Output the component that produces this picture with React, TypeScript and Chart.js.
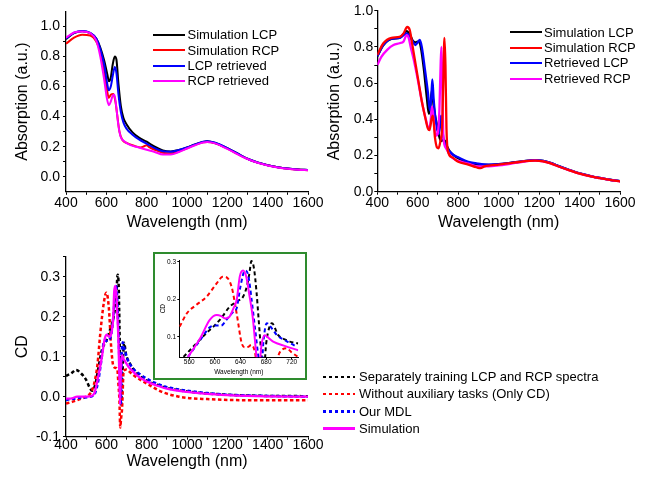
import React, { useEffect, useRef } from "react";
import { Chart, registerables } from "chart.js";
Chart.register(...registerables);

const FONT = "Arial, 'Liberation Sans', Helvetica, sans-serif";
type Pt = [number, number];

// ---------- Panel 1 (top-left) ----------
const p1SimLCP: Pt[] = [[400,0.915],[440,0.955],[480,0.968],[520,0.955],[550,0.92],[570,0.86],[590,0.77],[605,0.68],[613,0.635],[622,0.66],[632,0.75],[642,0.8],[650,0.78],[660,0.62],[672,0.47],[685,0.39],[700,0.35],[730,0.295],[760,0.262],[800,0.233],[840,0.2],[880,0.175],[920,0.168],[960,0.178],[1000,0.195],[1040,0.215],[1080,0.232],[1100,0.236],[1140,0.225],[1200,0.19],[1250,0.155],[1300,0.12],[1350,0.095],[1400,0.077],[1450,0.064],[1500,0.055],[1550,0.049],[1600,0.045]];
const p1SimRCP: Pt[] = [[400,0.885],[440,0.925],[480,0.945],[520,0.94],[550,0.9],[570,0.83],[590,0.7],[603,0.58],[612,0.525],[622,0.545],[635,0.55],[645,0.5],[655,0.4],[665,0.3],[680,0.245],[700,0.225],[740,0.205],[770,0.195],[790,0.205],[800,0.21],[815,0.195],[840,0.18],[880,0.16],[920,0.155],[960,0.168],[1000,0.19],[1040,0.212],[1080,0.23],[1100,0.232],[1140,0.222],[1200,0.188],[1250,0.152],[1300,0.119],[1350,0.094],[1400,0.076],[1450,0.063],[1500,0.054],[1550,0.048],[1600,0.044]];
const p1LCPRet: Pt[] = [[400,0.92],[440,0.958],[480,0.97],[520,0.958],[550,0.92],[570,0.85],[590,0.74],[603,0.63],[612,0.575],[622,0.6],[633,0.68],[642,0.73],[650,0.69],[660,0.55],[672,0.43],[685,0.36],[700,0.32],[730,0.28],[760,0.25],[800,0.22],[840,0.19],[880,0.17],[920,0.167],[960,0.178],[1000,0.195],[1040,0.215],[1080,0.233],[1100,0.236],[1140,0.226],[1200,0.19],[1250,0.155],[1300,0.12],[1350,0.095],[1400,0.077],[1450,0.064],[1500,0.055],[1550,0.049],[1600,0.045]];
const p1RCPRet: Pt[] = [[400,0.925],[440,0.96],[480,0.967],[520,0.955],[550,0.905],[570,0.8],[590,0.64],[603,0.52],[613,0.475],[622,0.5],[632,0.54],[640,0.545],[648,0.48],[658,0.36],[670,0.27],[690,0.235],[720,0.21],[760,0.195],[800,0.18],[840,0.165],[880,0.148],[920,0.148],[960,0.165],[1000,0.188],[1040,0.21],[1080,0.228],[1100,0.232],[1140,0.222],[1200,0.185],[1250,0.15],[1300,0.118],[1350,0.093],[1400,0.075],[1450,0.062],[1500,0.053],[1550,0.047],[1600,0.043]];
const p1Labels = ["Simulation LCP", "Simulation RCP", "LCP retrieved", "RCP retrieved"];

// ---------- Panel 2 (top-right) ----------
const p2SimLCP: Pt[] = [[400,0.748],[430,0.81],[470,0.845],[510,0.85],[530,0.87],[545,0.887],[560,0.87],[575,0.835],[590,0.825],[605,0.83],[615,0.8],[630,0.68],[645,0.52],[655,0.43],[662,0.47],[670,0.56],[676,0.5],[684,0.43],[695,0.37],[705,0.31],[715,0.28],[725,0.285],[735,0.28],[745,0.25],[760,0.22],[780,0.2],[800,0.185],[850,0.16],[900,0.15],[950,0.148],[1000,0.152],[1050,0.158],[1100,0.165],[1150,0.172],[1180,0.175],[1220,0.17],[1260,0.158],[1300,0.14],[1350,0.12],[1400,0.102],[1450,0.088],[1500,0.076],[1550,0.066],[1600,0.058]];
const p2SimRCP: Pt[] = [[400,0.755],[430,0.82],[470,0.85],[510,0.855],[530,0.875],[548,0.91],[560,0.895],[575,0.8],[590,0.7],[605,0.6],[620,0.5],[635,0.42],[650,0.35],[658,0.34],[668,0.4],[675,0.42],[685,0.3],[695,0.245],[703,0.24],[712,0.28],[720,0.35],[726,0.6],[732,0.85],[737,0.7],[742,0.35],[750,0.22],[770,0.19],[800,0.165],[850,0.15],[890,0.135],[910,0.13],[930,0.14],[960,0.145],[1000,0.15],[1050,0.157],[1100,0.164],[1150,0.17],[1180,0.172],[1220,0.168],[1260,0.155],[1300,0.138],[1350,0.118],[1400,0.1],[1450,0.086],[1500,0.075],[1550,0.065],[1600,0.057]];
const p2RetLCP: Pt[] = [[400,0.748],[430,0.81],[470,0.845],[510,0.85],[530,0.865],[545,0.875],[560,0.86],[575,0.83],[588,0.81],[600,0.825],[610,0.838],[620,0.8],[635,0.68],[650,0.55],[660,0.45],[667,0.52],[672,0.62],[678,0.52],[686,0.42],[695,0.35],[703,0.32],[710,0.36],[715,0.42],[720,0.36],[728,0.29],[740,0.25],[760,0.22],[780,0.2],[800,0.19],[850,0.165],[900,0.155],[950,0.15],[1000,0.152],[1050,0.158],[1100,0.165],[1150,0.172],[1180,0.175],[1220,0.17],[1260,0.158],[1300,0.14],[1350,0.12],[1400,0.102],[1450,0.088],[1500,0.076],[1550,0.066],[1600,0.058]];
const p2RetRCP: Pt[] = [[400,0.7],[420,0.745],[450,0.785],[480,0.81],[510,0.82],[530,0.83],[545,0.865],[555,0.85],[565,0.8],[580,0.73],[600,0.62],[620,0.5],[640,0.4],[655,0.345],[663,0.38],[670,0.47],[675,0.44],[683,0.35],[692,0.31],[700,0.33],[707,0.45],[713,0.7],[717,0.8],[721,0.6],[727,0.3],[740,0.24],[760,0.2],[780,0.18],[800,0.17],[850,0.155],[900,0.14],[950,0.14],[1000,0.145],[1050,0.153],[1100,0.162],[1150,0.17],[1180,0.172],[1220,0.168],[1260,0.155],[1300,0.138],[1350,0.118],[1400,0.1],[1450,0.086],[1500,0.075],[1550,0.065],[1600,0.057]];
const p2Labels = ["Simulation LCP", "Simulation RCP", "Retrieved LCP", "Retrieved RCP"];

// ---------- Panel 3 (CD) ----------
const cdSeparate: Pt[] = [[400,0.052],[425,0.058],[450,0.067],[475,0.058],[500,0.042],[515,0.025],[530,0.015],[545,0.03],[560,0.07],[578,0.117],[600,0.14],[620,0.17],[640,0.21],[650,0.26],[656,0.305],[661,0.28],[666,0.15],[670,0.02],[674,-0.02],[680,0.06],[688,0.135],[698,0.105],[715,0.085],[740,0.065],[770,0.05],[800,0.04],[850,0.03],[900,0.022],[1000,0.013],[1100,0.008],[1200,0.005],[1300,0.003],[1400,0.002],[1500,0.002],[1600,0.001]];
const cdNoAux: Pt[] = [[400,-0.017],[430,-0.013],[460,-0.008],[490,-0.002],[515,0.005],[530,0.017],[545,0.045],[556,0.08],[570,0.158],[587,0.233],[600,0.26],[612,0.225],[625,0.117],[636,0.075],[648,0.072],[654,0.07],[660,0.03],[665,-0.01],[669,-0.077],[673,-0.055],[678,-0.03],[686,0.065],[700,0.068],[720,0.06],[745,0.05],[810,0.03],[876,0.012],[960,0.0],[1000,-0.003],[1100,-0.006],[1200,-0.008],[1400,-0.009],[1600,-0.009]];
const cdMDL: Pt[] = [[400,-0.008],[440,-0.005],[480,-0.002],[520,0.0],[545,0.01],[560,0.04],[575,0.09],[590,0.14],[605,0.14],[618,0.145],[630,0.175],[640,0.235],[647,0.277],[652,0.265],[658,0.19],[663,0.118],[668,0.03],[671,-0.02],[676,0.09],[681,0.136],[690,0.12],[700,0.1],[730,0.072],[770,0.055],[800,0.045],[850,0.033],[900,0.024],[1000,0.015],[1100,0.009],[1200,0.005],[1300,0.003],[1400,0.002],[1600,0.0]];
const cdSim: Pt[] = [[400,-0.005],[430,-0.004],[455,0.0],[480,0.0],[520,0.001],[540,0.008],[558,0.046],[577,0.096],[592,0.145],[603,0.155],[616,0.149],[623,0.154],[634,0.198],[639,0.262],[644,0.277],[649,0.26],[654,0.21],[659,0.154],[665,0.046],[668,-0.02],[673,0.08],[678,0.104],[685,0.095],[691,0.09],[710,0.075],[730,0.064],[760,0.05],[800,0.038],[850,0.028],[900,0.02],[1000,0.012],[1100,0.007],[1200,0.004],[1300,0.002],[1400,0.001],[1600,0.0]];
const cdLabels = ["Separately training LCP and RCP spectra", "Without auxiliary tasks (Only CD)", "Our MDL", "Simulation"];

// ---------- Inset (zoom of CD) ----------
const inSeparate: Pt[] = [[551,0.046],[571,0.082],[590,0.115],[600,0.131],[610,0.15],[623,0.18],[634,0.194],[644,0.207],[650,0.235],[654,0.27],[657,0.302],[661,0.283],[665,0.22],[668,0.154],[673,0.046],[676,0.0],[680,0.08],[685,0.125],[689,0.136],[699,0.104],[710,0.092],[717,0.087],[730,0.082]];
const inNoAux: Pt[] = [[545,0.127],[556,0.162],[571,0.185],[587,0.207],[603,0.243],[612,0.26],[616,0.26],[626,0.234],[634,0.162],[642,0.082],[647,0.072],[652,0.073],[657,0.078],[663,0.055],[667,0.0],[690,0.0],[697,0.04],[702,0.06],[712,0.069],[720,0.058],[730,0.046]];
const inMDL: Pt[] = [[558,0.046],[577,0.091],[592,0.125],[600,0.13],[610,0.13],[618,0.145],[628,0.165],[634,0.176],[640,0.235],[647,0.277],[652,0.265],[658,0.19],[663,0.118],[668,0.046],[672,0.0],[676,0.09],[681,0.136],[690,0.12],[697,0.104],[710,0.09],[728,0.073]];
const inSim: Pt[] = [[558,0.046],[577,0.096],[592,0.145],[603,0.158],[610,0.155],[616,0.149],[623,0.154],[630,0.18],[634,0.198],[639,0.262],[644,0.277],[649,0.26],[654,0.21],[659,0.154],[665,0.046],[668,0.0],[673,0.08],[678,0.104],[685,0.095],[691,0.087],[710,0.075],[730,0.064]];

// ---------- Ticks ----------
const wlTicks = [400,500,600,700,800,900,1000,1100,1200,1300,1400,1500,1600];
const absTicks = [0,0.1,0.2,0.3,0.4,0.5,0.6,0.7,0.8,0.9,1.0];
const cdTicks = [-0.1,-0.05,0,0.05,0.1,0.15,0.2,0.25,0.3,0.35];
const inXTicks = [560,600,640,680,720];
const inYTicks = [0.1,0.2,0.3];

const BLACK = "#000000", RED = "#ff0000", BLUE = "#0000ff", MAG = "#ff00ff";

const xy = (a: Pt[]) => a.map(([x, y]) => ({ x, y }));
const ds = (label: string, a: Pt[], color: string, width: number, dash: number[] = []) => ({
  label, data: xy(a), borderColor: color, backgroundColor: color, borderWidth: width,
  borderDash: dash, pointRadius: 0, fill: false, cubicInterpolationMode: "monotone" as const,
  borderJoinStyle: "round" as const,
});

const isMult = (v: number, step: number) => Math.abs(Math.round(v / step) * step - v) < 1e-6;

function makeConfig(o: any): any {
  return {
    type: "line",
    data: { datasets: o.datasets },
    options: {
      responsive: false, animation: false, devicePixelRatio: 1,
      layout: { padding: o.pad },
      plugins: { legend: { display: false }, tooltip: { enabled: false } },
      scales: {
        x: {
          type: "linear", min: o.xMin, max: o.xMax,
          afterBuildTicks: (s: any) => { s.ticks = o.xTicks.map((v: number) => ({ value: v })); },
          afterFit: (s: any) => { s.height = o.xHeight; },
          ticks: { callback: o.xLabel, font: { family: FONT, size: o.tickSize }, color: "#000", padding: o.xTickPad, maxRotation: 0, autoSkip: false },
          grid: { display: true, drawOnChartArea: false, drawTicks: true, tickLength: o.tickLen, color: "#000", tickColor: "#000" },
          border: { display: true, color: "#000", width: o.axisWidth },
          title: { display: true, text: "Wavelength (nm)", font: { family: FONT, size: o.titleSize }, color: "#000", padding: { top: 0, bottom: o.xTitlePad } },
        },
        y: {
          type: "linear", min: o.yMin, max: o.yMax,
          afterBuildTicks: (s: any) => { s.ticks = o.yTicks.map((v: number) => ({ value: v })); },
          afterFit: (s: any) => { s.width = o.yWidth; },
          ticks: { callback: o.yLabel, font: { family: FONT, size: o.tickSize }, color: "#000", padding: o.yTickPad, autoSkip: false },
          grid: { display: true, drawOnChartArea: false, drawTicks: true, tickLength: o.tickLen, color: "#000", tickColor: "#000" },
          border: { display: true, color: "#000", width: o.axisWidth },
          title: { display: true, text: o.yTitle, font: { family: FONT, size: o.yTitleSize ?? o.titleSize }, color: "#000", padding: { top: 0, bottom: 0 } },
        },
      },
    },
  };
}

function ChartBox({ left, top, width, height, build }: any) {
  const ref = useRef<HTMLCanvasElement>(null);
  useEffect(() => {
    const chart = new Chart(ref.current as HTMLCanvasElement, build());
    return () => chart.destroy();
  }, []);
  return (
    <div style={{ position: "absolute", left, top, width, height }}>
      <canvas ref={ref} width={width} height={height} style={{ width, height, display: "block" }} />
    </div>
  );
}

function Legend({ x1, x2, tx, ys, items, size }: any) {
  return (
    <>
      {items.map((it: any, i: number) => {
        const y = ys[i];
        const bg = it.dash
          ? `repeating-linear-gradient(to right, ${it.color} 0px, ${it.color} ${it.dash[0]}px, transparent ${it.dash[0]}px, transparent ${it.dash[0] + it.dash[1]}px)`
          : it.color;
        return (
          <React.Fragment key={i}>
            <div style={{ position: "absolute", left: x1, top: y - it.w / 2, width: x2 - x1, height: it.w, background: bg }} />
            <div style={{ position: "absolute", left: tx, top: y - size * 0.6, fontFamily: FONT, fontSize: size, lineHeight: `${size * 1.2}px`, color: "#000", whiteSpace: "nowrap" }}>{it.text}</div>
          </React.Fragment>
        );
      })}
    </>
  );
}

const wlLabel = (v: number) => (isMult(v, 200) ? String(v) : "");
const absLabel = (v: number) => (isMult(v, 0.2) ? v.toFixed(1) : "");
const cdLabel = (v: number) => (isMult(v, 0.1) ? v.toFixed(1) : "");

export default function App() {
  const p1 = () => makeConfig({
    datasets: [ds(p1Labels[3], p1RCPRet, MAG, 2), ds(p1Labels[2], p1LCPRet, BLUE, 2), ds(p1Labels[1], p1SimRCP, RED, 2), ds(p1Labels[0], p1SimLCP, BLACK, 2)],
    xMin: 400, xMax: 1600, yMin: -0.1, yMax: 1.1, xTicks: wlTicks, yTicks: absTicks,
    xLabel: wlLabel, yLabel: absLabel, yTitle: "Absorption (a.u.)",
    pad: { left: 13, right: 22, top: 10.2, bottom: 0 }, yWidth: 53, xHeight: 48.2,
    tickSize: 14, titleSize: 16, tickLen: 3, xTickPad: 0, yTickPad: 3, xTitlePad: 7.4, axisWidth: 1.3,
  });
  const p2 = () => makeConfig({
    datasets: [ds(p2Labels[1], p2SimRCP, RED, 2.3), ds(p2Labels[3], p2RetRCP, MAG, 2.3), ds(p2Labels[2], p2RetLCP, BLUE, 2.3), ds(p2Labels[0], p2SimLCP, BLACK, 2.3)],
    xMin: 400, xMax: 1600, yMin: 0, yMax: 1.0, xTicks: wlTicks, yTicks: absTicks,
    xLabel: wlLabel, yLabel: absLabel, yTitle: "Absorption (a.u.)",
    pad: { left: 5.4, right: 36, top: 10.7, bottom: 0 }, yWidth: 51.9, xHeight: 48.3,
    tickSize: 14, titleSize: 16, tickLen: 3, xTickPad: 0, yTickPad: 1, xTitlePad: 7.4, axisWidth: 1.3,
  });
  const p3 = () => makeConfig({
    datasets: [ds(cdLabels[3], cdSim, MAG, 2.3), ds(cdLabels[2], cdMDL, BLUE, 2.5, [3.5, 2.5]), ds(cdLabels[1], cdNoAux, RED, 2.5, [3.5, 2.5]), ds(cdLabels[0], cdSeparate, BLACK, 2.5, [3.5, 2.5])],
    xMin: 400, xMax: 1600, yMin: -0.1, yMax: 0.35, xTicks: wlTicks, yTicks: cdTicks,
    xLabel: wlLabel, yLabel: cdLabel, yTitle: "CD",
    pad: { left: 13, right: 22, top: 16.7, bottom: 0 }, yWidth: 53, xHeight: 48.3,
    tickSize: 14, titleSize: 16, tickLen: 3, xTickPad: -3, yTickPad: 3, xTitlePad: 13.7, axisWidth: 1.3,
  });
  const inset = () => makeConfig({
    datasets: [ds(cdLabels[3], inSim, MAG, 2), ds(cdLabels[2], inMDL, BLUE, 2, [4, 3]), ds(cdLabels[1], inNoAux, RED, 2, [4, 3]), ds(cdLabels[0], inSeparate, BLACK, 2, [4, 3])],
    xMin: 544.4, xMax: 730.3, yMin: 0.045, yMax: 0.305, xTicks: inXTicks, yTicks: inYTicks,
    xLabel: (v: number) => String(v), yLabel: (v: number) => v.toFixed(1), yTitle: "CD",
    pad: { left: 4, right: 6.7, top: 6, bottom: 0 }, yWidth: 20.3, xHeight: 20.7,
    tickSize: 6.5, titleSize: 6.5, tickLen: 2, xTickPad: -1, yTickPad: 1.3, xTitlePad: 2.1, axisWidth: 1,
  });

  return (
    <div style={{ position: "fixed", left: 0, top: 0, width: 656, height: 485, background: "#fff", overflow: "hidden" }}>
      <ChartBox left={0} top={0} width={330} height={240} build={p1} />
      <ChartBox left={320} top={0} width={336} height={240} build={p2} />
      <ChartBox left={0} top={240} width={330} height={245} build={p3} />
      <div style={{ position: "absolute", left: 153, top: 252, width: 154, height: 128, border: "2px solid #2e8b2e", boxSizing: "border-box", background: "#fff" }} />
      <ChartBox left={155} top={254} width={150} height={124} build={inset} />
      <Legend x1={153} x2={185} tx={187.5} ys={[35, 50.3, 65.6, 81]} size={13}
        items={[{ text: p1Labels[0], color: BLACK, w: 2 }, { text: p1Labels[1], color: RED, w: 2 }, { text: p1Labels[2], color: BLUE, w: 2 }, { text: p1Labels[3], color: MAG, w: 2 }]} />
      <Legend x1={510} x2={542} tx={544} ys={[32.3, 47.7, 63, 79]} size={13}
        items={[{ text: p2Labels[0], color: BLACK, w: 2.3 }, { text: p2Labels[1], color: RED, w: 2.3 }, { text: p2Labels[2], color: BLUE, w: 2.3 }, { text: p2Labels[3], color: MAG, w: 2.3 }]} />
      <Legend x1={323} x2={355} tx={359} ys={[377, 394.2, 411.4, 428.6]} size={13}
        items={[{ text: cdLabels[0], color: BLACK, w: 2.5, dash: [3.5, 2.5] }, { text: cdLabels[1], color: RED, w: 2.5, dash: [3.5, 2.5] }, { text: cdLabels[2], color: BLUE, w: 2.5, dash: [3.5, 2.5] }, { text: cdLabels[3], color: MAG, w: 2.3 }]} />
    </div>
  );
}
